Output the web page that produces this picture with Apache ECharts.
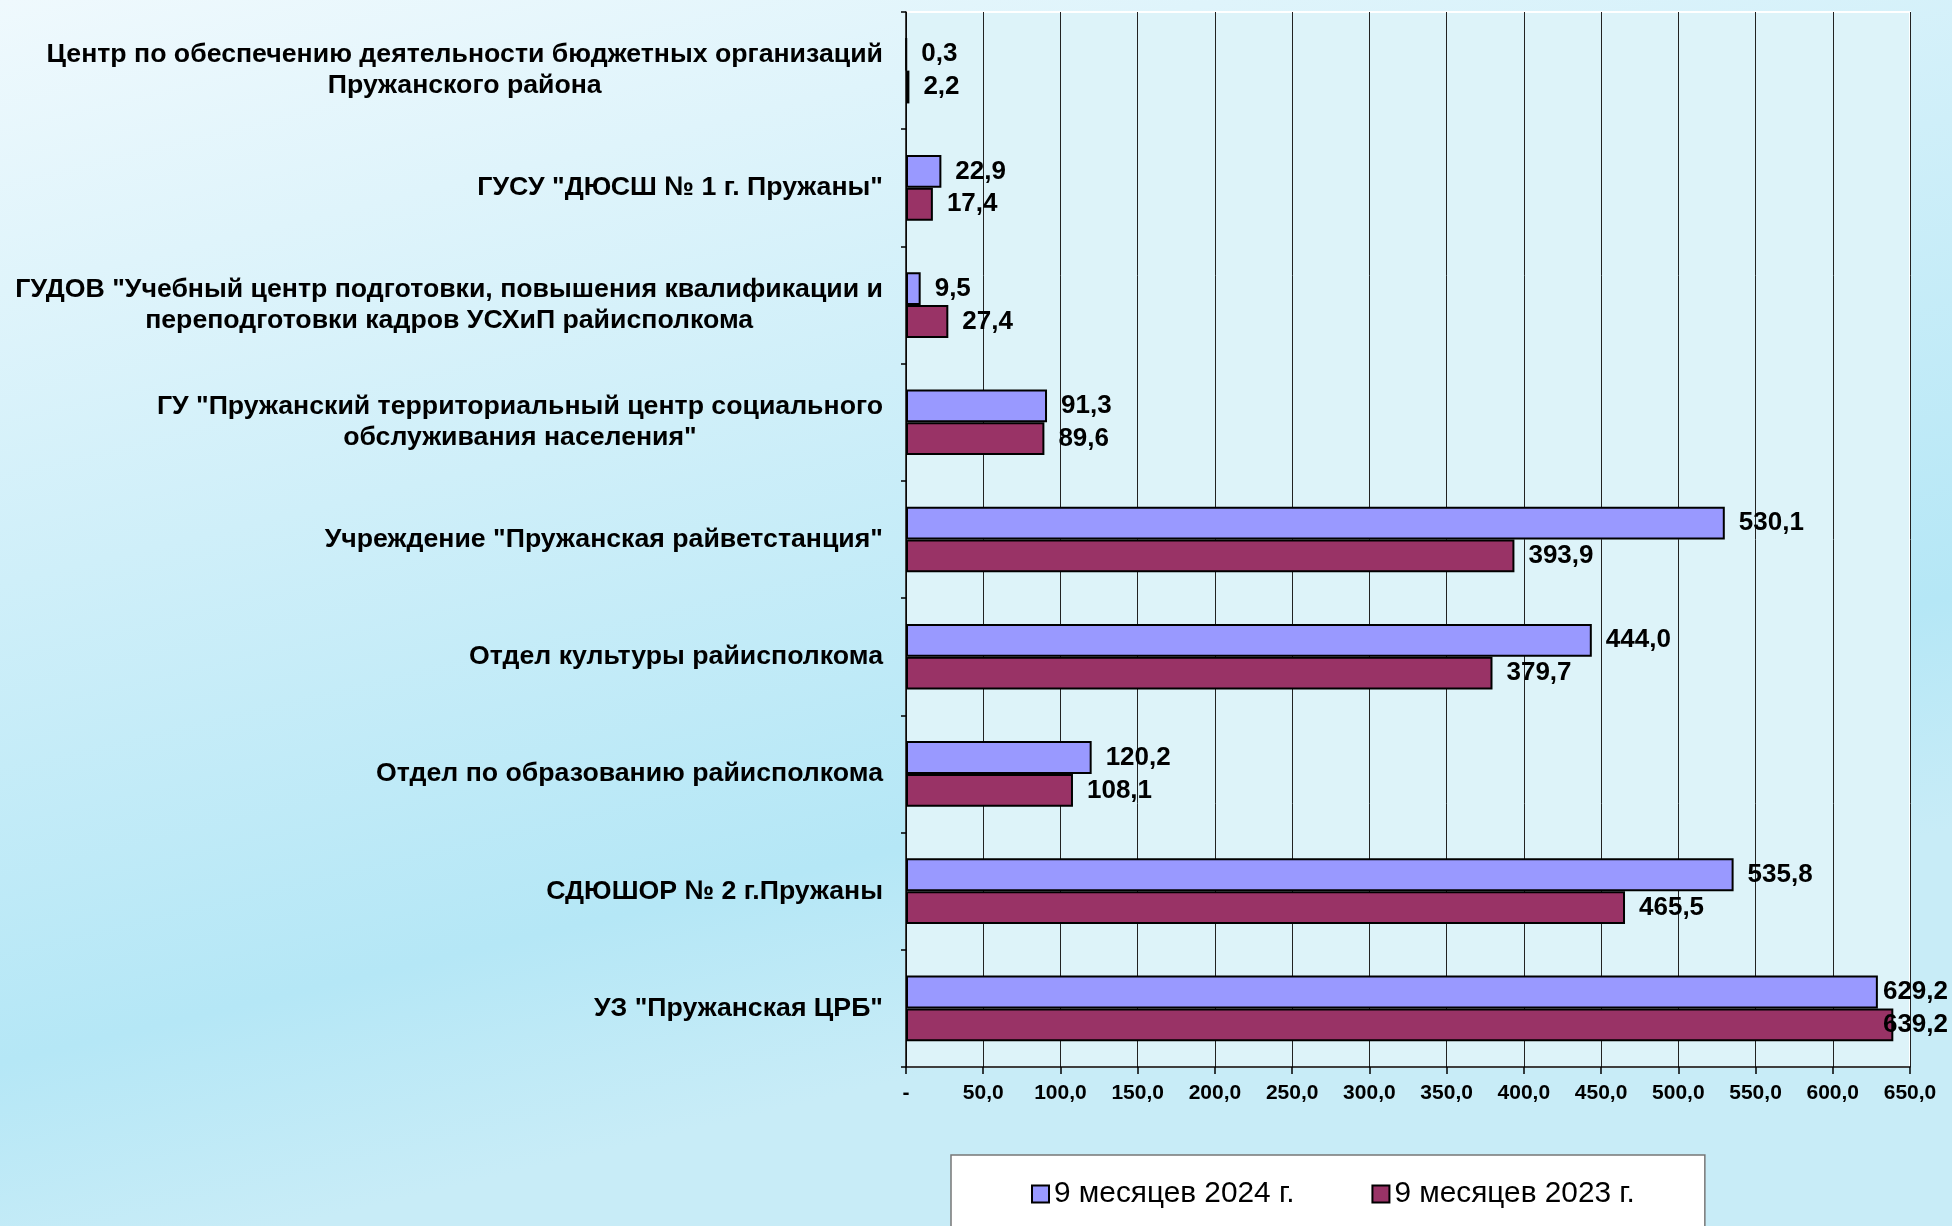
<!DOCTYPE html>
<html>
<head>
<meta charset="utf-8">
<script src="https://cdn.jsdelivr.net/npm/echarts@6/dist/echarts.min.js"></script>
<style>
html,body{margin:0;padding:0;}
#chart{width:1952px;height:1226px;}
</style>
</head>
<body>
<div id="chart"></div>
<script>
const categories = [
  'Центр по обеспечению деятельности бюджетных организаций\nПружанского района',
  'ГУСУ "ДЮСШ № 1 г. Пружаны"',
  'ГУДОВ "Учебный центр подготовки, повышения квалификации и\nпереподготовки кадров УСХиП райисполкома',
  'ГУ "Пружанский территориальный центр социального\nобслуживания населения"',
  'Учреждение "Пружанская райветстанция"',
  'Отдел культуры райисполкома',
  'Отдел по образованию райисполкома',
  'СДЮШОР № 2 г.Пружаны',
  'УЗ "Пружанская ЦРБ"'
];
const seriesNames = ['9 месяцев 2024 г.', '9 месяцев 2023 г.'];
const values2024 = [0.3, 22.9, 9.5, 91.3, 530.1, 444.0, 120.2, 535.8, 629.2];
const values2023 = [2.2, 17.4, 27.4, 89.6, 393.9, 379.7, 108.1, 465.5, 639.2];
const xMin = 0, xMax = 650, xStep = 50;

const FONT = '"Liberation Sans", Arial, sans-serif';
const fmt = v => v.toFixed(1).replace('.', ',');
const W = 1952;

const chart = echarts.init(document.getElementById('chart'), null, {renderer: 'canvas'});

function barSeries(name, data, color) {
  return {
    name: name,
    type: 'bar',
    data: data,
    barGap: '0%',
    barCategoryGap: '44%',
    itemStyle: {color: color, borderColor: '#000', borderWidth: 2},
    label: {
      show: true,
      position: 'right',
      distance: 14,
      color: '#000',
      fontFamily: FONT,
      fontWeight: 'bold',
      fontSize: 26,
      formatter: p => fmt(p.value)
    },
    labelLayout: function (params) {
      const r = params.labelRect;
      const limit = W - 4;
      if (r.x + r.width > limit) {
        return {dx: limit - (r.x + r.width)};
      }
      return {};
    },
    emphasis: {disabled: true}
  };
}

chart.setOption({
  animation: false,
  backgroundColor: {
    type: 'linear', x: 0, y: 0, x2: 0.15, y2: 1,
    colorStops: [
      {offset: 0, color: '#eff9fd'},
      {offset: 0.45, color: '#cfeff9'},
      {offset: 0.82, color: '#b5e7f6'},
      {offset: 1, color: '#c8ecf7'}
    ]
  },
  grid: {
    left: 906, top: 12, width: 1004, height: 1055,
    show: true,
    backgroundColor: '#ddf3f9',
    borderColor: '#ffffff',
    borderWidth: 2,
    containLabel: false
  },
  legend: {
    data: seriesNames,
    left: 951,
    top: 1155,
    orient: 'horizontal',
    backgroundColor: '#ffffff',
    borderColor: '#777777',
    borderWidth: 1.5,
    padding: [24, 70, 80, 80],
    itemGap: 77,
    itemWidth: 17,
    itemHeight: 17,
    icon: 'rect',
    textStyle: {fontFamily: FONT, fontSize: 29.8, color: '#000'}
  },
  xAxis: {
    type: 'value',
    min: xMin, max: xMax, interval: xStep,
    axisLine: {show: true, lineStyle: {color: '#000', width: 1.5}},
    axisTick: {show: true, length: 7, lineStyle: {color: '#000', width: 1.5}},
    splitLine: {show: true, lineStyle: {color: '#222222', width: 1}},
    axisLabel: {
      margin: 16,
      color: '#000',
      fontFamily: FONT,
      fontWeight: 'bold',
      fontSize: 21,
      formatter: v => v === 0 ? '-' : fmt(v)
    }
  },
  yAxis: {
    type: 'category',
    data: categories,
    inverse: true,
    axisLine: {show: true, lineStyle: {color: '#000', width: 1.5}},
    axisTick: {show: true, length: 5, lineStyle: {color: '#000', width: 1.5}},
    splitLine: {show: false},
    axisLabel: {
      interval: 0,
      margin: 23,
      formatter: v => v.split('\n').map(l => '{c|' + l + '}').join('\n'),
      rich: {
        c: {
          align: 'center',
          fontFamily: FONT,
          fontWeight: 'bold',
          fontSize: 26.7,
          lineHeight: 31,
          color: '#000'
        }
      }
    }
  },
  series: [
    barSeries(seriesNames[0], values2024, '#9999ff'),
    barSeries(seriesNames[1], values2023, '#993366')
  ]
});
</script>
</body>
</html>
